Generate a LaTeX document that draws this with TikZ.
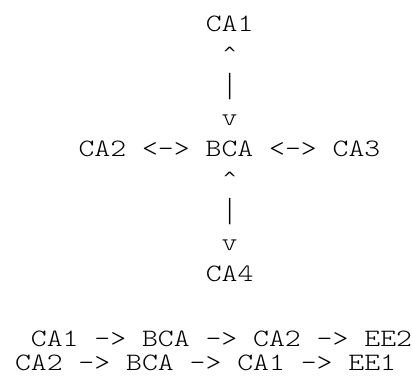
\documentclass[tikz,border=0pt]{standalone}
\usepackage{fontspec}
\newfontfamily\courlike[FakeStretch=1.21]{Latin Modern Mono Light}
\newfontfamily\barfont{Liberation Serif}
\newfontfamily\caretfont{DejaVu Sans}
\begin{document}
\begin{tikzpicture}[x=1pt,y=1pt,
  asc/.style={anchor=base west,inner sep=0pt,outer sep=0pt,
    font=\courlike\fontsize{25}{25}\selectfont,text=black},
  caret/.style={anchor=base,inner sep=0pt,outer sep=0pt,
    font=\caretfont\fontsize{17}{17}\selectfont,text=black},
  vbar/.style={anchor=base,inner sep=0pt,outer sep=0pt,
    font=\barfont\fontsize{29}{29}\selectfont,text=black}]
\useasboundingbox[fill=white] (0,0) rectangle (412,-381);
\def\cw{15.9}
\def\xz{15}
\def\xc{229.65}
\node[asc]   (top)   at (\xz+12*\cw,-31)  {CA1};
\node[caret] (up1)   at (\xc,-59.5)       {\string^};
\node[vbar]  (bar1)  at (\xc,-93)         {|};
\node[asc]   (dn1)   at (\xz+13*\cw,-125) {v};
\node[asc]   (mid)   at (\xz+4*\cw,-156)  {CA2 <-> BCA <-> CA3};
\node[caret] (up2)   at (\xc,-184.5)      {\string^};
\node[vbar]  (bar2)  at (\xc,-218)        {|};
\node[asc]   (dn2)   at (\xz+13*\cw,-250) {v};
\node[asc]   (bot)   at (\xz+12*\cw,-281) {CA4};
\node[asc]   (path1) at (\xz+1*\cw,-346)  {CA1 -> BCA -> CA2 -> EE2};
\node[asc]   (path2) at (\xz,-370)        {CA2 -> BCA -> CA1 -> EE1};
\end{tikzpicture}
\end{document}
